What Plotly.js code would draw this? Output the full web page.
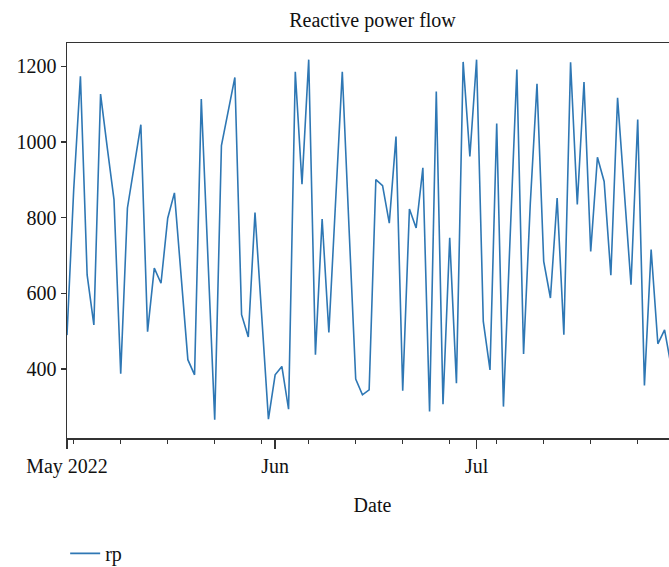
<!DOCTYPE html>
<html>
<head>
<meta charset="utf-8">
<script src="https://cdn.plot.ly/plotly-3.0.1.min.js"></script>
<style>
  html, body { margin: 0; padding: 0; background: #fff; overflow: hidden; }
  #frame { width: 669px; height: 567px; overflow: hidden; }
</style>
</head>
<body>
<div id="frame"><div id="chart"></div></div>
<script>
// Daily reactive power series, one value per day starting on the first date
const startDate = '2022-05-01';
const rp = [
  490, 875, 1174, 649, 517, 1127, 985, 848, 388, 826,
  936, 1046, 499, 667, 627, 799, 866, 640, 425, 385,
  1114, 690, 266, 991, 1081, 1171, 544, 485, 814, 534,
  268, 385, 407, 294, 1186, 889, 1218, 438, 797, 497,
  850, 1186, 775, 374, 332, 345, 901, 885, 786, 1015,
  343, 823, 773, 932, 288, 1134, 307, 747, 363, 1212,
  962, 1218, 526, 398, 1049, 301, 750, 1192, 440, 837,
  1154, 685, 588, 852, 491, 1211, 835, 1159, 711, 960,
  896, 648, 1117, 858, 623, 1060, 357, 716, 467, 504,
  405
];

// Month ticks and their labels
const monthTicks = ['2022-05-01', '2022-06-01', '2022-07-01'];
const monthLabels = ['May 2022', 'Jun', 'Jul'];
const yTicks = [400, 600, 800, 1000, 1200];

// Consecutive daily index for the series
const dates = [];
const d0 = new Date(startDate + 'T00:00:00Z');
for (let i = 0; i < rp.length; i++) {
  const d = new Date(d0.getTime() + i * 86400000);
  dates.push(d.toISOString().slice(0, 10));
}

const serif = '"Liberation Serif", "DejaVu Serif", serif';
const axisColor = '#333333';

const trace = {
  x: dates,
  y: rp,
  type: 'scatter',
  mode: 'lines',
  name: 'rp',
  line: { color: '#2e77b4', width: 1.6 }
};

const layout = {
  width: 678,
  height: 567,
  margin: { l: 67, r: 0, t: 43, b: 129 },
  paper_bgcolor: '#fff',
  plot_bgcolor: '#fff',
  font: { family: serif, size: 20, color: '#111' },
  title: {
    text: 'Reactive power flow',
    font: { family: serif, size: 20, color: '#111' },
    x: 0.5, xref: 'paper',
    y: 1 - 20 / 567, yref: 'container', yanchor: 'middle'
  },
  showlegend: true,
  legend: {
    orientation: 'h',
    x: -0.003, xanchor: 'left', xref: 'paper',
    y: 0.024, yanchor: 'middle', yref: 'container',
    font: { family: serif, size: 20, color: '#111' },
    bgcolor: 'rgba(0,0,0,0)'
  },
  xaxis: {
    type: 'date',
    range: ['2022-05-01', '2022-07-31'],
    tickmode: 'array',
    tickvals: monthTicks,
    ticktext: monthLabels,
    ticks: 'outside',
    ticklen: 9,
    tickwidth: 1.3,
    tickcolor: axisColor,
    minor: {
      tickmode: 'linear',
      tick0: '2022-05-02',
      dtick: 7 * 86400000,
      ticks: 'outside',
      ticklen: 4,
      tickwidth: 1.1,
      tickcolor: axisColor,
      showgrid: false
    },
    showgrid: false,
    zeroline: false,
    showline: true,
    linecolor: axisColor,
    linewidth: 1.5,
    mirror: true,
    automargin: false,
    tickfont: { family: serif, size: 20, color: '#111' },
    title: { text: 'Date', standoff: 21, font: { family: serif, size: 20, color: '#111' } }
  },
  yaxis: {
    range: [218, 1262],
    tickmode: 'array',
    tickvals: yTicks,
    ticks: 'outside',
    ticklen: 5,
    tickwidth: 1.3,
    tickcolor: axisColor,
    showgrid: false,
    zeroline: false,
    showline: true,
    linecolor: axisColor,
    linewidth: 1.5,
    mirror: true,
    automargin: false,
    tickfont: { family: serif, size: 20, color: '#111' }
  }
};

Plotly.newPlot('chart', [trace], layout, { displayModeBar: false, staticPlot: true });
</script>
</body>
</html>
